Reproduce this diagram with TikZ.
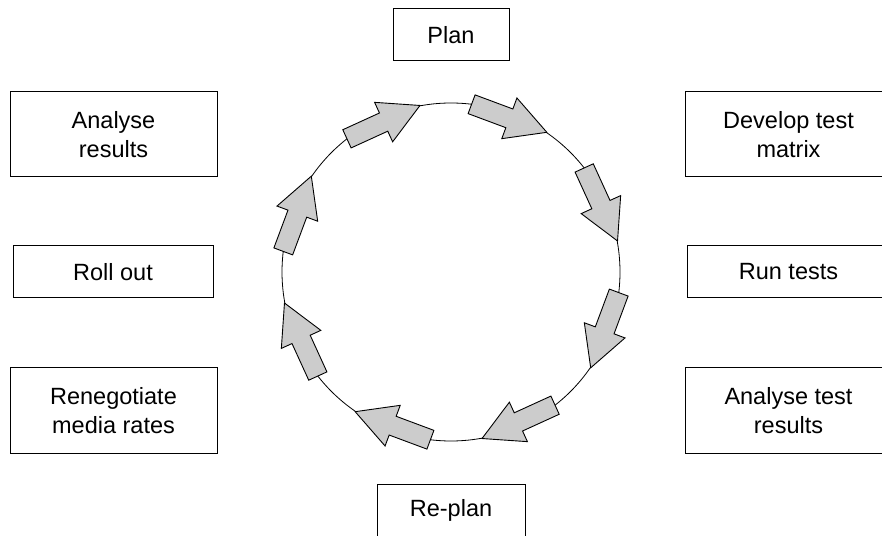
\documentclass[tikz,border=0pt]{standalone}
\usepackage{fontspec}
\setmainfont{Liberation Sans}
\begin{document}
\begin{tikzpicture}[x=1pt,y=1pt,
  box/.style={draw, line width=1pt, inner sep=0pt, outer sep=0pt, align=center,
    font=\fontsize{23.5}{29}\selectfont},
  ring/.style={draw, circle, line width=0.8pt, minimum size=338pt, inner sep=0pt, outer sep=0pt},
  blockarrow/.style={draw, fill=black!20, line width=0.9pt, line join=miter}]
\useasboundingbox (0,0) rectangle (882,535);
\clip (0,0) rectangle (882,535);
\node[ring] (ring) at (451,263) {};
\node[box, minimum width=116pt, minimum height=52pt] (plan) at (451,500) {Plan};
\node[box, minimum width=207pt, minimum height=85pt] (analyse) at (113.5,400.5) {Analyse\\results};
\node[box, minimum width=207pt, minimum height=85pt] (develop) at (788.5,400.5) {Develop test\\matrix};
\node[box, minimum width=200pt, minimum height=52pt] (rollout) at (113,263) {Roll out};
\node[box, minimum width=202pt, minimum height=52pt] (run) at (788.5,263) {Run tests};
\node[box, minimum width=207pt, minimum height=85pt] (reneg) at (113.5,124.5) {Renegotiate\\media rates};
\node[box, minimum width=207pt, minimum height=85pt] (atr) at (788.5,124.5) {Analyse test\\results};
\node[box, minimum width=148pt, minimum height=52pt] (replan) at (451,25) {Re-plan};
\foreach \k in {0,...,7} {
  \pgfmathsetmacro\ta{mod(128.3-45*\k+360,360)}
  \pgfmathsetmacro\dir{128.3-45*\k-13.75-90}
  \begin{scope}[shift={(ring.\ta)}, rotate=\dir]
    \draw[blockarrow] (0,10) -- (40.3,10) -- (40.3,21.7) -- (80.3,0) -- (40.3,-21.7) -- (40.3,-10) -- (0,-10) -- cycle;
  \end{scope}
}
\end{tikzpicture}
\end{document}
